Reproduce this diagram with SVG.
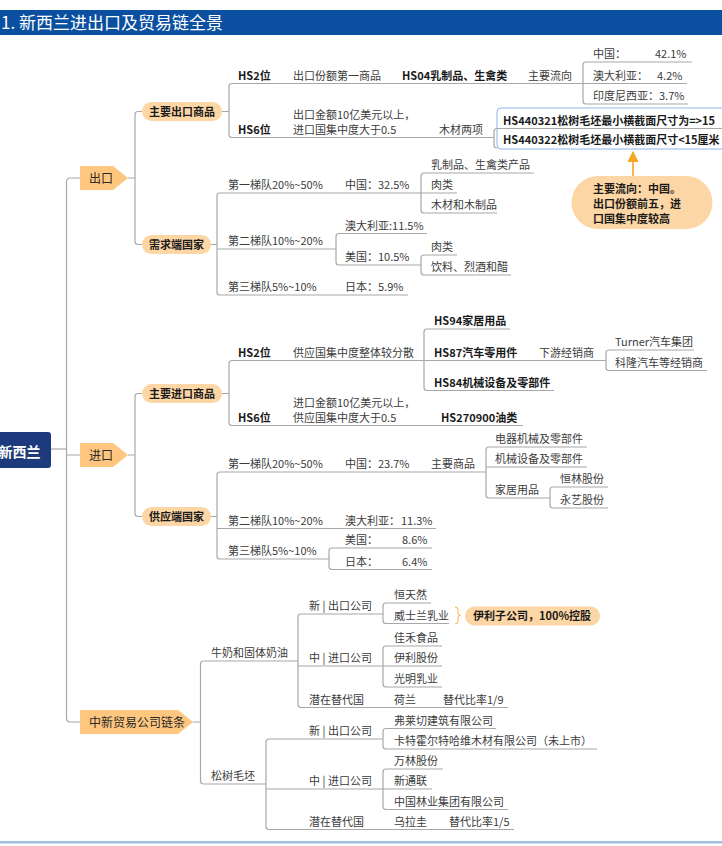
<svg xmlns="http://www.w3.org/2000/svg" width="722" height="846" viewBox="0 0 722 846">
<style>
text{font-family:"Noto Sans CJK SC","Noto Sans",sans-serif;font-size:11px;fill:#3c3c3c}
.b{font-weight:bold;fill:#1a1a1a}
.ln{stroke:#a8a8a8;stroke-width:1.2;fill:none}
.pent{fill:#fec67f}
.pill{fill:#fdd6a5}
.pt{font-size:12px;fill:#2a2a2a}
.pb{font-weight:bold;fill:#1a1a1a;text-anchor:middle}
</style>
<defs>
<marker id="ah" viewBox="0 0 10 10" refX="9" refY="5" markerWidth="7" markerHeight="7" orient="auto"><path d="M0,0 L10,5 L0,10 z" fill="#f5a623"/></marker>
</defs>
<rect width="722" height="846" fill="#ffffff"/>
<g id="header">
<rect x="0" y="10" width="722" height="25" fill="#0b50a0"/>
<text x="1" y="29" style="font-size:17px;fill:#ffffff">1. 新西兰进出口及贸易链全景</text>
<rect x="0" y="841" width="722" height="2.5" fill="#a3bfe3"/>
</g>

<g id="connectors" class="ln">
<path d="M51 449H66.5"/>
<path d="M80 178H70.5Q66.5 178 66.5 182V718Q66.5 722 70.5 722H80M66.5 455H80"/>
<path d="M128 178H135M142 111.5H138Q135 111.5 135 114.5V241.5Q135 244.5 138 244.5H142"/>
<path d="M128 455H135M142 393.5H138Q135 393.5 135 396.5V513.5Q135 516.5 138 516.5H142"/>
<path d="M193 722H200.5M203.5 661Q200.5 661 200.5 664V781Q200.5 784 203.5 784"/>
<path d="M222 111.5H229M232 83.5Q229 83.5 229 86.5V134.5Q229 137.5 232 137.5"/>
<path d="M586 62Q583 62 583 65V101Q583 104 586 104"/>
<path d="M497 128.5Q494 128.5 494 131.5V145Q494 148 497 148"/>
<path d="M211 244.5H217M220 193Q217 193 217 196V292Q217 295 220 295"/>
<path d="M424 173Q421 173 421 176V210Q421 213 424 213"/>
<path d="M339 233.5Q336 233.5 336 236.5V262Q336 265 339 265"/>
<path d="M424 255Q421 255 421 258V272Q421 275 424 275"/>
<path d="M222 393.5H229M232 360.5Q229 360.5 229 363.5V422.5Q229 425.5 232 425.5"/>
<path d="M427 329Q424 329 424 332V387.5Q424 390.5 427 390.5"/>
<path d="M609 350Q606 350 606 353V367.5Q606 370.5 609 370.5"/>
<path d="M211 516.5H217M220 472Q217 472 217 475V556Q217 559 220 559"/>
<path d="M489 447Q486 447 486 450V495Q486 498 489 498"/>
<path d="M553 487Q550 487 550 490V505Q550 508 553 508"/>
<path d="M332 548Q329 548 329 551V566.5Q329 569.5 332 569.5"/>
<path d="M301 614Q298 614 298 617V704.5Q298 707.5 301 707.5"/>
<path d="M386 603Q383 603 383 606V620.5Q383 623.5 386 623.5"/>
<path d="M386 646Q383 646 383 649V684Q383 687 386 687"/>
<path d="M269 739Q266 739 266 742V826.5Q266 829.5 269 829.5"/>
<path d="M386 728.5Q383 728.5 383 731.5V746Q383 749 386 749"/>
<path d="M386 769Q383 769 383 772V806.5Q383 809.5 386 809.5"/>
<path d="M633 176V152" style="stroke:#f5a623;stroke-width:1.6" marker-end="url(#ah)"/>
<path d="M455 607Q458 607 458 610V613.5Q458 615.5 460.5 615.5Q458 615.5 458 617.5V621Q458 624 455 624" style="stroke:#f6b24a;stroke-width:1"/>
</g>

<g id="root">
<rect x="-6" y="432" width="57" height="36" rx="3" fill="#1d3b7c"/>
<text x="-1.5" y="457" style="font-size:14px;font-weight:bold;fill:#ffffff">新西兰</text>
</g>

<g id="export">
<polygon class="pent" points="80,166 113,166 128,178 113,190 80,190"/>
<text class="pt" x="89" y="182.5">出口</text>
</g>
<g id="import">
<polygon class="pent" points="80,443 113,443 128,455 113,467 80,467"/>
<text class="pt" x="89" y="459.5">进口</text>
</g>
<g id="chain">
<polygon class="pent" points="80,710 178,710 193,722 178,734 80,734"/>
<text class="pt" x="89" y="726.5">中新贸易公司链条</text>
</g>

<g id="main-export">
<rect class="pill" x="142" y="102" width="80" height="19" rx="9.5"/>
<text class="pb" x="182" y="115.5">主要出口商品</text>
</g>
<g id="demand">
<rect class="pill" x="142" y="235" width="69" height="19" rx="9.5"/>
<text class="pb" x="176.5" y="248.5">需求端国家</text>
</g>
<g id="main-import">
<rect class="pill" x="142" y="384" width="80" height="19" rx="9.5"/>
<text class="pb" x="182" y="397.5">主要进口商品</text>
</g>
<g id="supply">
<rect class="pill" x="142" y="507" width="69" height="19" rx="9.5"/>
<text class="pb" x="176.5" y="520.5">供应端国家</text>
</g>

<g id="ex-hs2">
<line class="ln" x1="232" y1="83.5" x2="583" y2="83.5"/>
<text class="b" x="238" y="79.5">HS2位</text>
<text x="293" y="79.5">出口份额第一商品</text>
<text class="b" x="402" y="79.5">HS04乳制品、生禽类</text>
<text x="528" y="79.5">主要流向</text>
</g>
<g id="ex-cn">
<line class="ln" x1="586" y1="62" x2="692" y2="62"/>
<text x="593" y="58">中国：</text><text x="655" y="58">42.1%</text>
</g>
<g id="ex-au">
<line class="ln" x1="583" y1="83.5" x2="687" y2="83.5"/>
<text x="593" y="79.5">澳大利亚：</text><text x="657" y="79.5">4.2%</text>
</g>
<g id="ex-id">
<line class="ln" x1="586" y1="104" x2="688" y2="104"/>
<text x="593" y="100">印度尼西亚：3.7%</text>
</g>
<g id="ex-hs6">
<line class="ln" x1="232" y1="137.5" x2="494" y2="137.5"/>
<text class="b" x="238" y="133.5">HS6位</text>
<text x="293" y="119">出口金额10亿美元以上，</text>
<text x="293" y="133.5">进口国集中度大于0.5</text>
<text x="439" y="133.5">木材两项</text>
</g>
<g id="ex-wood">
<rect x="497" y="108" width="240" height="41" rx="4" fill="none" stroke="#8fb3ea" stroke-width="1"/>
<line class="ln" x1="497" y1="128.5" x2="722" y2="128.5"/>
<text class="b" x="503" y="124.5">HS440321松树毛坯最小横截面尺寸为=&gt;15</text>
<text class="b" x="503" y="144">HS440322松树毛坯最小横截面尺寸&lt;15厘米</text>
</g>
<g id="callout">
<rect class="pill" x="571.5" y="176" width="141" height="53" rx="26.5"/>
<text class="b" x="593" y="193">主要流向：中国。</text>
<text class="b" x="593" y="208">出口份额前五，进</text>
<text class="b" x="593" y="222.5">口国集中度较高</text>
</g>

<g id="d-t1">
<line class="ln" x1="220" y1="193" x2="421" y2="193"/>
<text x="228" y="189">第一梯队20%~50%</text>
<text x="345" y="189">中国：32.5%</text>
</g>
<g id="d-t1a"><line class="ln" x1="424" y1="173" x2="534" y2="173"/><text x="431" y="169">乳制品、生禽类产品</text></g>
<g id="d-t1b"><line class="ln" x1="421" y1="193" x2="457" y2="193"/><text x="431" y="189">肉类</text></g>
<g id="d-t1c"><line class="ln" x1="424" y1="213" x2="497" y2="213"/><text x="431" y="209">木材和木制品</text></g>
<g id="d-t2">
<line class="ln" x1="217" y1="249" x2="336" y2="249"/>
<text x="228" y="245">第二梯队10%~20%</text>
</g>
<g id="d-t2au"><line class="ln" x1="339" y1="233.5" x2="427" y2="233.5"/><text x="345" y="229.5">澳大利亚:11.5%</text></g>
<g id="d-t2us"><line class="ln" x1="339" y1="265" x2="421" y2="265"/><text x="345" y="261">美国：10.5%</text></g>
<g id="d-t2a"><line class="ln" x1="424" y1="255" x2="457" y2="255"/><text x="431" y="251">肉类</text></g>
<g id="d-t2b"><line class="ln" x1="424" y1="275" x2="511" y2="275"/><text x="431" y="271">饮料、烈酒和醋</text></g>
<g id="d-t3">
<line class="ln" x1="220" y1="295" x2="408" y2="295"/>
<text x="228" y="291">第三梯队5%~10%</text>
<text x="345" y="291">日本：5.9%</text>
</g>

<g id="im-hs2">
<line class="ln" x1="232" y1="360.5" x2="424" y2="360.5"/>
<text class="b" x="238" y="356.5">HS2位</text>
<text x="293" y="356.5">供应国集中度整体较分散</text>
</g>
<g id="im-hs94"><line class="ln" x1="427" y1="329" x2="510" y2="329"/><text class="b" x="434" y="325">HS94家居用品</text></g>
<g id="im-hs87">
<line class="ln" x1="424" y1="360.5" x2="606" y2="360.5"/>
<text class="b" x="434" y="356.5">HS87汽车零用件</text>
<text x="539" y="356.5">下游经销商</text>
</g>
<g id="im-turner"><line class="ln" x1="609" y1="350" x2="694" y2="350"/><text x="615" y="346">Turner汽车集团</text></g>
<g id="im-kelong"><line class="ln" x1="609" y1="370.5" x2="707" y2="370.5"/><text x="615" y="366.5">科隆汽车等经销商</text></g>
<g id="im-hs84"><line class="ln" x1="427" y1="390.5" x2="554" y2="390.5"/><text class="b" x="434" y="386.5">HS84机械设备及零部件</text></g>
<g id="im-hs6">
<line class="ln" x1="232" y1="425.5" x2="523" y2="425.5"/>
<text class="b" x="238" y="421.5">HS6位</text>
<text x="293" y="407">进口金额10亿美元以上，</text>
<text x="293" y="421.5">供应国集中度大于0.5</text>
<text class="b" x="441" y="421.5">HS270900油类</text>
</g>

<g id="s-t1">
<line class="ln" x1="220" y1="472" x2="486" y2="472"/>
<text x="228" y="468">第一梯队20%~50%</text>
<text x="345" y="468">中国：23.7%</text>
<text x="431" y="468">主要商品</text>
</g>
<g id="s-t1a"><line class="ln" x1="489" y1="447" x2="587" y2="447"/><text x="495" y="443">电器机械及零部件</text></g>
<g id="s-t1b"><line class="ln" x1="486" y1="467" x2="587" y2="467"/><text x="495" y="463">机械设备及零部件</text></g>
<g id="s-t1c"><line class="ln" x1="489" y1="498" x2="550" y2="498"/><text x="495" y="494">家居用品</text></g>
<g id="s-t1c1"><line class="ln" x1="553" y1="487" x2="608" y2="487"/><text x="560" y="483">恒林股份</text></g>
<g id="s-t1c2"><line class="ln" x1="553" y1="508" x2="608" y2="508"/><text x="560" y="504">永艺股份</text></g>
<g id="s-t2">
<line class="ln" x1="217" y1="528.5" x2="436" y2="528.5"/>
<text x="228" y="524.5">第二梯队10%~20%</text>
<text x="345" y="524.5">澳大利亚：</text><text x="401" y="524.5">11.3%</text>
</g>
<g id="s-t3">
<line class="ln" x1="220" y1="559" x2="329" y2="559"/>
<text x="228" y="555">第三梯队5%~10%</text>
</g>
<g id="s-t3us"><line class="ln" x1="332" y1="548" x2="432" y2="548"/><text x="345" y="544">美国：</text><text x="402" y="544">8.6%</text></g>
<g id="s-t3jp"><line class="ln" x1="332" y1="569.5" x2="432" y2="569.5"/><text x="345" y="565.5">日本：</text><text x="402" y="565.5">6.4%</text></g>

<g id="milk">
<line class="ln" x1="203.5" y1="661" x2="298" y2="661"/>
<text x="211" y="657">牛奶和固体奶油</text>
</g>
<g id="milk-nz"><line class="ln" x1="301" y1="614" x2="383" y2="614"/><text x="309" y="610">新 | 出口公司</text></g>
<g id="milk-nz1"><line class="ln" x1="386" y1="603" x2="431" y2="603"/><text x="394" y="599">恒天然</text></g>
<g id="milk-nz2"><line class="ln" x1="386" y1="623.5" x2="449" y2="623.5"/><text x="394" y="619.5">威士兰乳业</text></g>
<g id="yili-note">
<rect class="pill" x="465" y="606.5" width="135" height="19" rx="9.5"/>
<text class="b" x="473" y="620">伊利子公司，100%控股</text>
</g>
<g id="milk-cn"><line class="ln" x1="298" y1="666" x2="383" y2="666"/><text x="309" y="662">中 | 进口公司</text></g>
<g id="milk-cn1"><line class="ln" x1="386" y1="646" x2="442" y2="646"/><text x="394" y="642">佳禾食品</text></g>
<g id="milk-cn2"><line class="ln" x1="383" y1="666" x2="442" y2="666"/><text x="394" y="662">伊利股份</text></g>
<g id="milk-cn3"><line class="ln" x1="386" y1="687" x2="442" y2="687"/><text x="394" y="683">光明乳业</text></g>
<g id="milk-alt">
<line class="ln" x1="301" y1="707.5" x2="508" y2="707.5"/>
<text x="309" y="703.5">潜在替代国</text><text x="394" y="703.5">荷兰</text><text x="443" y="703.5">替代比率1/9</text>
</g>

<g id="pine">
<line class="ln" x1="203.5" y1="784" x2="266" y2="784"/>
<text x="211" y="780">松树毛坯</text>
</g>
<g id="pine-nz"><line class="ln" x1="269" y1="739" x2="383" y2="739"/><text x="309" y="735">新 | 出口公司</text></g>
<g id="pine-nz1"><line class="ln" x1="386" y1="728.5" x2="496" y2="728.5"/><text x="394" y="724.5">弗莱切建筑有限公司</text></g>
<g id="pine-nz2"><line class="ln" x1="386" y1="749" x2="597" y2="749"/><text x="394" y="745">卡特霍尔特哈维木材有限公司（未上市）</text></g>
<g id="pine-cn"><line class="ln" x1="266" y1="789" x2="383" y2="789"/><text x="309" y="785">中 | 进口公司</text></g>
<g id="pine-cn1"><line class="ln" x1="386" y1="769" x2="443" y2="769"/><text x="394" y="765">万林股份</text></g>
<g id="pine-cn2"><line class="ln" x1="383" y1="789" x2="432" y2="789"/><text x="394" y="785">新通联</text></g>
<g id="pine-cn3"><line class="ln" x1="386" y1="809.5" x2="508" y2="809.5"/><text x="394" y="805.5">中国林业集团有限公司</text></g>
<g id="pine-alt">
<line class="ln" x1="269" y1="829.5" x2="514" y2="829.5"/>
<text x="309" y="825.5">潜在替代国</text><text x="394" y="825.5">乌拉圭</text><text x="449" y="825.5">替代比率1/5</text>
</g>
</svg>
